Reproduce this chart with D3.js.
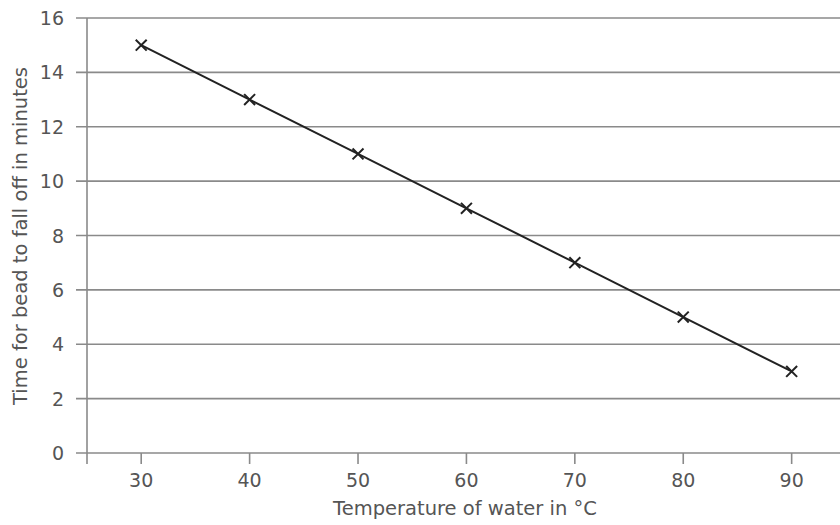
<!DOCTYPE html>
<html>
<head>
<meta charset="utf-8">
<script src="https://cdn.jsdelivr.net/npm/d3@7"></script>
<style>
  body { margin: 0; background: #fff; }
  text { font-family: "DejaVu Sans", sans-serif; fill: #555; }
</style>
</head>
<body>
<svg id="chart" width="840" height="525"></svg>
<script>
var temps = [30, 40, 50, 60, 70, 80, 90]
var times = [15, 13, 11, 9, 7, 5, 3]
var xTicks = [30, 40, 50, 60, 70, 80, 90]
var yTicks = [0, 2, 4, 6, 8, 10, 12, 14, 16]

var svg = d3.select("#chart")

var x = d3.scaleLinear().domain([25, 94.46]).range([87, 840])
var y = d3.scaleLinear().domain([0, 16]).range([453, 18])

var grid = "#8a8a8a"

// horizontal grid lines, reaching past the axis as ticks
svg.append("g").selectAll("line")
    .data(yTicks)
    .enter().append("line")
    .attr("x1", 76).attr("x2", 840)
    .attr("y1", function(d) { return y(d) })
    .attr("y2", function(d) { return y(d) })
    .attr("stroke", grid)
    .attr("stroke-width", 1.6)

// y axis line
svg.append("line")
    .attr("x1", 87).attr("x2", 87)
    .attr("y1", y(16)).attr("y2", 464)
    .attr("stroke", grid)
    .attr("stroke-width", 1.6)

// x ticks
svg.append("g").selectAll("line")
    .data(xTicks)
    .enter().append("line")
    .attr("x1", function(d) { return x(d) })
    .attr("x2", function(d) { return x(d) })
    .attr("y1", y(0)).attr("y2", 464)
    .attr("stroke", grid)
    .attr("stroke-width", 1.6)

svg.append("g").selectAll("text")
    .data(yTicks)
    .enter().append("text")
    .attr("x", 64)
    .attr("y", function(d) { return y(d) + 7 })
    .attr("text-anchor", "end")
    .style("font-size", "19px")
    .text(function(d) { return d })

svg.append("g").selectAll("text")
    .data(xTicks)
    .enter().append("text")
    .attr("x", function(d) { return x(d) })
    .attr("y", 487)
    .attr("text-anchor", "middle")
    .style("font-size", "19px")
    .text(function(d) { return d })

svg.append("text")
    .attr("x", 465).attr("y", 515)
    .attr("text-anchor", "middle")
    .style("font-size", "19.5px")
    .text("Temperature of water in °C")

svg.append("text")
    .attr("transform", "translate(27,236) rotate(-90)")
    .attr("text-anchor", "middle")
    .style("font-size", "19.5px")
    .text("Time for bead to fall off in minutes")

var pts = temps.map(function(t, i) { return [t, times[i]] })

svg.append("path")
    .datum(pts)
    .attr("d", d3.line().x(function(d) { return x(d[0]) }).y(function(d) { return y(d[1]) }))
    .attr("fill", "none")
    .attr("stroke", "#222")
    .attr("stroke-width", 2)

svg.append("g").selectAll("path")
    .data(pts)
    .enter().append("path")
    .attr("d", d3.symbol().type(d3.symbolX).size(80))
    .attr("transform", function(d) { return "translate(" + x(d[0]) + "," + y(d[1]) + ")" })
    .attr("fill", "none")
    .attr("stroke", "#222")
    .attr("stroke-width", 2)
</script>
</body>
</html>
